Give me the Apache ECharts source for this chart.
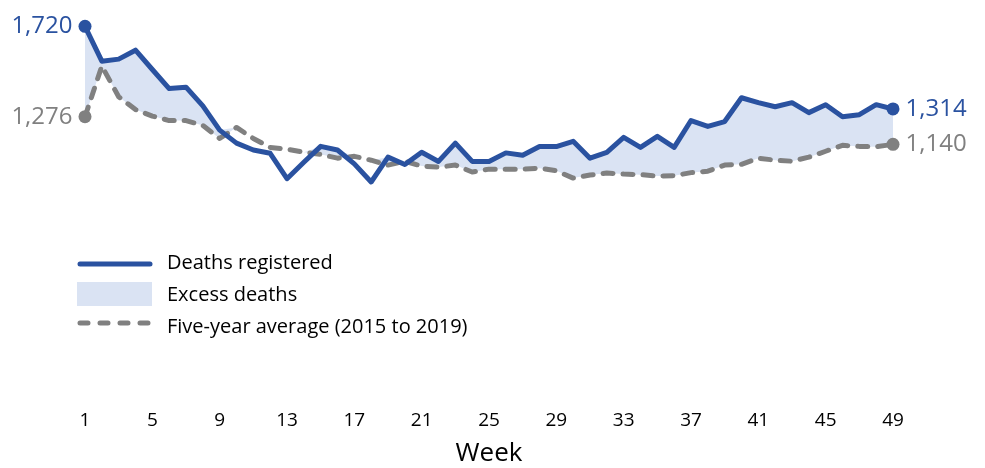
<!DOCTYPE html>
<html>
<head>
<meta charset="utf-8">
<script src="https://cdn.jsdelivr.net/npm/echarts@6/dist/echarts.min.js"></script>
<style>html,body{margin:0;padding:0;background:#fff}#c{width:985px;height:468px}</style>
</head>
<body>
<div id="c"></div>
<script>
const weeks = Array.from({length: 49}, (_, i) => String(i + 1));
const deathsRegistered = [1720,1549,1559,1603,1508,1414,1421,1329,1210,1146,1112,1096,971,1052,1130,1112,1044,955,1077,1041,1101,1056,1146,1056,1056,1098,1086,1129,1129,1155,1072,1101,1174,1125,1179,1125,1257,1228,1252,1369,1345,1325,1345,1296,1335,1276,1286,1335,1314];
const fiveYearAverage = [1276,1525,1374,1311,1279,1257,1257,1233,1169,1223,1169,1125,1116,1101,1091,1072,1081,1062,1038,1057,1033,1028,1038,1004,1018,1018,1018,1023,1010,974,989,999,994,991,984,986,1001,1008,1038,1042,1072,1062,1057,1077,1106,1135,1130,1128,1140];
const legendLabels = ['Deaths registered','Excess deaths','Five-year average (2015 to 2019)'];

const BLUE = '#2a52a0', GRAY = '#808080', FILL = '#dae3f3';
const FONT = '"Open Sans", "Noto Sans", sans-serif';
const fmt = v => v.toLocaleString('en-US');
const excess = deathsRegistered.map((v, i) => Math.max(v - fiveYearAverage[i], 0));
const last = weeks.length - 1;

function endData(arr, color) {
  return arr.map((v, i) => {
    if (i === 0) return {value: v, symbol: 'circle', symbolSize: 13, label: {show: true, position: 'left', distance: 6, color: color, fontSize: 24, fontFamily: FONT, formatter: p => fmt(p.value)}};
    if (i === last) return {value: v, symbol: 'circle', symbolSize: 13, label: {show: true, position: 'right', distance: 6, color: color, fontSize: 24, fontFamily: FONT, formatter: p => fmt(p.value)}};
    return {value: v, symbol: 'none'};
  });
}

const chart = echarts.init(document.getElementById('c'));
chart.setOption({
  animation: false,
  grid: {left: 85, right: 92, top: 10.1, bottom: 250, containLabel: false},
  xAxis: {
    type: 'category', data: weeks, boundaryGap: false,
    axisLine: {show: false}, axisTick: {show: false}, splitLine: {show: false},
    axisLabel: {interval: 3, margin: 198, fontSize: 19, color: '#000', fontFamily: FONT},
    name: 'Week', nameLocation: 'middle', nameGap: 240.5, nameMoveOverlap: false,
    nameTextStyle: {fontSize: 26, color: '#000', fontFamily: FONT, verticalAlign: 'middle'}
  },
  yAxis: {type: 'value', min: 800, max: 1800, show: false},
  series: [
    {name: 'base', type: 'line', data: fiveYearAverage, stack: 'ex', symbol: 'none', lineStyle: {opacity: 0}, silent: true, z: 1},
    {name: legendLabels[1], type: 'line', data: excess, stack: 'ex', symbol: 'none', lineStyle: {opacity: 0}, areaStyle: {color: FILL, opacity: 1}, silent: true, z: 1},
    {name: legendLabels[2], type: 'line', data: endData(fiveYearAverage, GRAY), showSymbol: true, itemStyle: {color: GRAY},
     lineStyle: {color: GRAY, width: 5, type: [10, 10], cap: 'round', join: 'round'}, z: 2},
    {name: legendLabels[0], type: 'line', data: endData(deathsRegistered, BLUE), showSymbol: true, itemStyle: {color: BLUE},
     lineStyle: {color: BLUE, width: 5, join: 'round'}, z: 3}
  ],
  graphic: [
    {type: 'line', shape: {x1: 80, y1: 264, x2: 150, y2: 264}, style: {stroke: BLUE, lineWidth: 5, lineCap: 'round'}},
    {type: 'text', x: 167, y: 263, style: {text: legendLabels[0], fontSize: 20, fontFamily: FONT, fill: '#000', verticalAlign: 'middle'}},
    {type: 'rect', shape: {x: 77, y: 282, width: 75, height: 24}, style: {fill: FILL}},
    {type: 'text', x: 167, y: 295, style: {text: legendLabels[1], fontSize: 20, fontFamily: FONT, fill: '#000', verticalAlign: 'middle'}},
    {type: 'line', shape: {x1: 80, y1: 323, x2: 150, y2: 323}, style: {stroke: GRAY, lineWidth: 5, lineCap: 'round', lineDash: [8, 12]}},
    {type: 'text', x: 167, y: 327, style: {text: legendLabels[2], fontSize: 20, fontFamily: FONT, fill: '#000', verticalAlign: 'middle'}}
  ]
});
</script>
</body>
</html>
